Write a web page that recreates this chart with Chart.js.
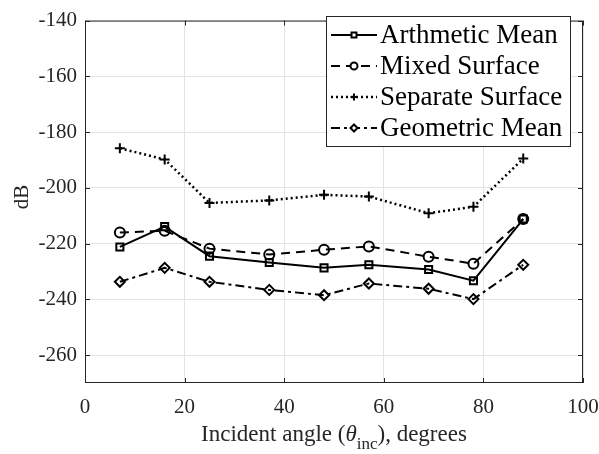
<!DOCTYPE html>
<html>
<head>
<meta charset="utf-8">
<script src="https://cdn.jsdelivr.net/npm/chart.js@4"></script>
<style>
  html, body { margin: 0; padding: 0; background: #fff; }
  #wrap { width: 599px; height: 454px; }
</style>
</head>
<body>
<div id="wrap"><canvas id="angleChart" width="599" height="454"></canvas></div>
<script>
// incident angles (degrees)
const angles = [7, 16, 25, 37, 48, 57, 69, 78, 88];

const arithmeticMean = [-221.2, -213.9, -224.5, -226.8, -228.7, -227.6, -229.3, -233.3, -211.2];
const mixedSurface = [-216.0, -215.4, -221.8, -223.9, -222.2, -221.0, -224.7, -227.2, -211.2];
const separateSurface = [-185.8, -189.8, -205.4, -204.5, -202.5, -203.1, -209.1, -206.8, -189.5];
const geometricMean = [-233.7, -228.7, -233.7, -236.6, -238.5, -234.3, -236.2, -239.9, -227.6];

const seriesNames = ["Arthmetic Mean", "Mixed Surface", "Separate Surface", "Geometric Mean"];

const xTicks = [0, 20, 40, 60, 80, 100];
const yTicks = [-260, -240, -220, -200, -180, -160, -140];

const serif = "'Liberation Serif', 'DejaVu Serif', serif";

function toPoints(values) {
    return values.map((v, i) => ({ x: angles[i], y: v }));
}

function lineSet(label, values, dash, style, width) {
    return {
        label: label,
        data: toPoints(values),
        borderColor: "#000",
        borderWidth: width,
        borderDash: dash,
        pointStyle: style,
        pointRadius: 5,
        pointBorderWidth: 2,
        pointBorderColor: "#000",
        pointBackgroundColor: "rgba(0,0,0,0)",
        fill: false,
        tension: 0
    };
}

// box, inward ticks, titles and legend, MATLAB style
const framePlugin = {
    id: "frame",
    afterDraw(chart) {
        const ctx = chart.ctx;
        const a = chart.chartArea;
        const xs = chart.scales.x, ys = chart.scales.y;
        ctx.save();
        ctx.strokeStyle = "#262626";
        ctx.lineWidth = 1;
        ctx.strokeRect(a.left + 0.5, a.top + 0.5, a.right - a.left - 1, a.bottom - a.top - 1);
        ctx.beginPath();
        xTicks.forEach(v => {
            const px = Math.round(xs.getPixelForValue(v)) + 0.5;
            ctx.moveTo(px, a.bottom); ctx.lineTo(px, a.bottom - 5);
            ctx.moveTo(px, a.top); ctx.lineTo(px, a.top + 5);
        });
        yTicks.forEach(v => {
            const py = Math.round(ys.getPixelForValue(v)) + 0.5;
            ctx.moveTo(a.left, py); ctx.lineTo(a.left + 5, py);
            ctx.moveTo(a.right, py); ctx.lineTo(a.right - 5, py);
        });
        ctx.stroke();

        // axis titles
        ctx.fillStyle = "#262626";
        ctx.textBaseline = "alphabetic";
        const big = "23px " + serif, small = "17px " + serif, ital = "italic 23px " + serif;
        const p1 = "Incident angle (", th = "\u03B8", sub = "inc", p2 = "), degrees";
        ctx.font = big;
        const w1 = ctx.measureText(p1).width;
        const w2 = ctx.measureText(p2).width;
        ctx.font = ital;
        const wth = ctx.measureText(th).width;
        ctx.font = small;
        const ws = ctx.measureText(sub).width;
        let x = (a.left + a.right) / 2 - (w1 + wth + ws + w2) / 2;
        const base = 441;
        ctx.textAlign = "left";
        ctx.font = big;
        ctx.fillText(p1, x, base); x += w1;
        ctx.font = ital;
        ctx.fillText(th, x, base); x += wth;
        ctx.font = small;
        ctx.fillText(sub, x, base + 8); x += ws;
        ctx.font = big;
        ctx.fillText(p2, x, base);

        ctx.save();
        ctx.translate(28, 197);
        ctx.rotate(-Math.PI / 2);
        ctx.textAlign = "center";
        ctx.font = "21px " + serif;
        ctx.fillText("dB", 0, 0);
        ctx.restore();

        // legend
        const lx = 326, ly = 16, lw = 244, lh = 130;
        ctx.fillStyle = "#fff";
        ctx.fillRect(lx, ly, lw, lh);
        ctx.strokeStyle = "#262626";
        ctx.lineWidth = 1;
        ctx.strokeRect(lx + 0.5, ly + 0.5, lw, lh);
        chart.data.datasets.forEach((ds, i) => {
            const cy = 35 + i * 31;
            ctx.save();
            ctx.strokeStyle = "#000";
            ctx.fillStyle = "#fff";
            ctx.lineWidth = ds.borderWidth;
            ctx.setLineDash(ds.borderDash);
            ctx.beginPath();
            ctx.moveTo(331, cy); ctx.lineTo(377, cy);
            ctx.stroke();
            ctx.setLineDash([]);
            ctx.lineWidth = 2;
            Chart.helpers.drawPoint(ctx, { pointStyle: ds.pointStyle, radius: 3.5, rotation: 0, borderWidth: 2 }, 354, cy);
            ctx.restore();
            ctx.fillStyle = "#000";
            ctx.font = "27px " + serif;
            ctx.textAlign = "left";
            ctx.textBaseline = "middle";
            ctx.fillText(ds.label, 380, cy + 1);
        });
        ctx.restore();
    }
};

new Chart(document.getElementById("angleChart"), {
    type: "line",
    data: {
        datasets: [
            lineSet(seriesNames[0], arithmeticMean, [], "rect", 2),
            lineSet(seriesNames[1], mixedSurface, [9, 6], "circle", 2),
            lineSet(seriesNames[2], separateSurface, [2, 3], "cross", 2.5),
            lineSet(seriesNames[3], geometricMean, [9, 4, 3, 4], "rectRot", 2)
        ]
    },
    options: {
        responsive: false,
        animation: false,
        devicePixelRatio: 1,
        layout: { padding: { top: 9, right: 0, left: 0, bottom: 0 } },
        plugins: { legend: { display: false }, tooltip: { enabled: false } },
        scales: {
            x: {
                type: "linear",
                min: 0, max: 100,
                afterBuildTicks: s => { s.ticks = xTicks.map(v => ({ value: v })); },
                afterFit: s => { s.height = 71; s.paddingLeft = 0; s.paddingRight = 16; },
                grid: { color: "#e3e3e3", drawTicks: false },
                border: { display: false },
                ticks: { color: "#262626", padding: 12, maxRotation: 0, font: { family: serif, size: 21 } }
            },
            y: {
                type: "linear",
                min: -270, max: -140,
                afterBuildTicks: s => { s.ticks = yTicks.map(v => ({ value: v })); },
                afterFit: s => { s.width = 85; },
                grid: { color: "#e3e3e3", drawTicks: false },
                border: { display: false },
                ticks: { color: "#262626", padding: 8, font: { family: serif, size: 21 }, callback: v => String(v) }
            }
        }
    },
    plugins: [framePlugin]
});
</script>
</body>
</html>
